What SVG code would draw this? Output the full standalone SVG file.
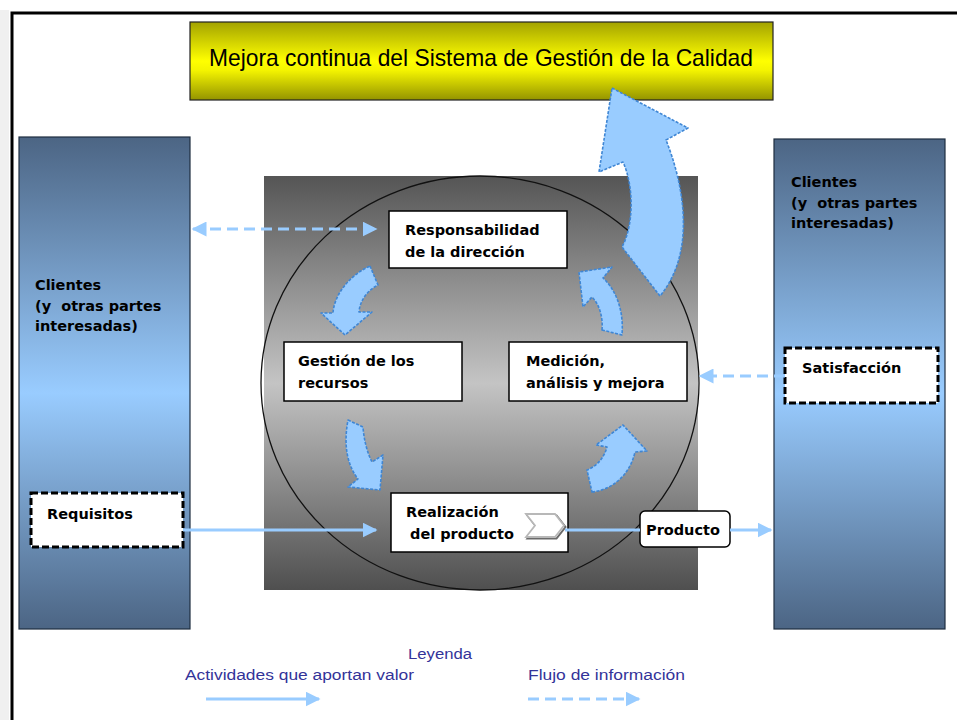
<svg xmlns="http://www.w3.org/2000/svg" width="957" height="720" viewBox="0 0 957 720">
<defs>
<linearGradient id="gYellow" x1="0" y1="0" x2="0" y2="1">
<stop offset="0" stop-color="#a3a300"/><stop offset="0.5" stop-color="#ffff00"/><stop offset="0.62" stop-color="#f4f400"/><stop offset="1" stop-color="#949400"/>
</linearGradient>
<linearGradient id="gCol" x1="0" y1="0" x2="0" y2="1">
<stop offset="0" stop-color="#4c6584"/><stop offset="0.52" stop-color="#99ccff"/><stop offset="1" stop-color="#4c6584"/>
</linearGradient>
<linearGradient id="gGray" x1="0" y1="0" x2="0" y2="1">
<stop offset="0" stop-color="#555555"/><stop offset="0.5" stop-color="#c4c4c4"/><stop offset="1" stop-color="#4f4f4f"/>
</linearGradient>
<marker id="ah" viewBox="0 0 10 10" refX="9" refY="5" markerWidth="5" markerHeight="5" markerUnits="strokeWidth" orient="auto-start-reverse">
<path d="M0,0 L10,5 L0,10 Z" fill="#99ccff"/>
</marker>
</defs>
<style>
.box{fill:#ffffff;stroke:#000000;stroke-width:1.5}
.dbox{fill:#ffffff;stroke:#000000;stroke-width:3;stroke-dasharray:7 3}
.lbl{font-family:"DejaVu Sans",Verdana,sans-serif;font-weight:bold;font-size:14.5px;fill:#000000}
.blk{fill:#99ccff;stroke:#3f86d4;stroke-width:1.6;stroke-dasharray:3 1.5;stroke-linejoin:round}
.flow{fill:none;stroke:#99ccff;stroke-width:3}
.info{fill:none;stroke:#99ccff;stroke-width:3;stroke-dasharray:11 6}
.leg{font-family:"Liberation Sans",Arial,sans-serif;font-size:14px;fill:#333399}
</style>
<rect x="0" y="0" width="957" height="720" fill="#ffffff"/>
<rect x="0" y="10" width="9" height="710" fill="#f0f0f0"/>
<path d="M12,720 L12,13 L957,13" fill="none" stroke="#000000" stroke-width="3"/>

<g id="titulo">
<rect x="190" y="22" width="583" height="78" fill="url(#gYellow)" stroke="#222222" stroke-width="1.2"/>
<text x="481" y="66" text-anchor="middle" textLength="544" lengthAdjust="spacingAndGlyphs" font-family="Liberation Sans, Arial, sans-serif" font-size="24" fill="#000000">Mejora continua del Sistema de Gestión de la Calidad</text>
</g>

<g id="clientes-izq">
<rect x="19" y="137" width="171" height="492" fill="url(#gCol)" stroke="#1e2e40" stroke-width="1.2"/>
<text class="lbl" x="35" y="290">Clientes</text>
<text class="lbl" x="35" y="311">(y&#160; otras partes</text>
<text class="lbl" x="35" y="331">interesadas)</text>
</g>

<g id="clientes-der">
<rect x="774" y="139" width="171" height="490" fill="url(#gCol)" stroke="#1e2e40" stroke-width="1.2"/>
<text class="lbl" x="791" y="187">Clientes</text>
<text class="lbl" x="791" y="208">(y&#160; otras partes</text>
<text class="lbl" x="791" y="228">interesadas)</text>
</g>

<g id="sistema">
<rect x="264" y="176" width="434" height="414" fill="url(#gGray)"/>
<ellipse cx="480" cy="383" rx="219" ry="207" fill="none" stroke="#111111" stroke-width="1.3"/>
</g>

<g id="requisitos">
<rect class="dbox" x="31" y="493" width="152" height="54"/>
<text class="lbl" x="47" y="519">Requisitos</text>
</g>

<g id="satisfaccion">
<rect class="dbox" x="785" y="348" width="153" height="55"/>
<text class="lbl" x="802" y="373">Satisfacción</text>
</g>

<g id="responsabilidad">
<rect class="box" x="389" y="211" width="178" height="57"/>
<text class="lbl" x="405" y="235">Responsabilidad</text>
<text class="lbl" x="405" y="257">de la dirección</text>
</g>

<g id="gestion">
<rect class="box" x="284" y="342" width="178" height="59"/>
<text class="lbl" x="298" y="366">Gestión de los</text>
<text class="lbl" x="298" y="388">recursos</text>
</g>

<g id="medicion">
<rect class="box" x="509" y="342" width="178" height="59"/>
<text class="lbl" x="526" y="366">Medición,</text>
<text class="lbl" x="526" y="388">análisis y mejora</text>
</g>

<g id="realizacion">
<rect class="box" x="391" y="493" width="177" height="59"/>
<text class="lbl" x="406" y="517">Realización</text>
<text class="lbl" x="410" y="539">del producto</text>
<path d="M527.5,515.5 L556.5,515.5 L565.5,527 L556.5,538.5 L527.5,538.5 L536.5,527 Z" fill="none" stroke="#6a6a6a" stroke-width="2"/>
<path d="M526,514 L555,514 L564,525.5 L555,537 L526,537 L535,525.5 Z" fill="#ffffff" stroke="#b8b8b8" stroke-width="1.8"/>
</g>

<g id="producto">
<rect class="box" x="640" y="511" width="90" height="36" rx="5" ry="5"/>
<text class="lbl" x="646" y="535">Producto</text>
</g>

<g id="ciclo">
<path class="blk" d="M370,266 L378,285 C368,290 360,300 359,312 L372,312 L345,335 L321,313 L333,313 C334,296 348,276 370,266 Z"/>
<path class="blk" d="M348,420 L363,427 C364,440 367,452 372,462 L383,455 L380,490 L348,487 L358,479 C348,466 343,447 348,420 Z"/>
<path class="blk" d="M592,492 C612,490 630,475 635,452 L647,451 L623,425 L596,445 L607,447 C604,458 597,466 587,470 Z"/>
<path class="blk" d="M602,330 C603,318 600,305 592,297 L583,307 L579,272 L612,267 L603,278 C616,290 624,310 622,335 Z"/>
</g>

<g id="mejora-continua">
<path class="blk" d="M612,88 L688,128 L666,140 C682,180 698,250 660,296 L622,247 C634,225 634,186 623,162 L599,172 Z"/>
</g>

<g id="conectores">
<line class="info" x1="193" y1="229" x2="376" y2="229" marker-start="url(#ah)" marker-end="url(#ah)"/>
<line class="info" x1="785" y1="376" x2="700" y2="376" marker-end="url(#ah)"/>
<line class="flow" x1="183" y1="530" x2="376" y2="530" marker-end="url(#ah)"/>
<line class="flow" x1="565" y1="530" x2="640" y2="530"/>
<line class="flow" x1="730" y1="530" x2="771" y2="530" marker-end="url(#ah)"/>
</g>

<g id="leyenda">
<text class="leg" x="408" y="659" textLength="64" lengthAdjust="spacingAndGlyphs">Leyenda</text>
<text class="leg" x="185" y="680" textLength="229" lengthAdjust="spacingAndGlyphs">Actividades que aportan valor</text>
<text class="leg" x="528" y="680" textLength="157" lengthAdjust="spacingAndGlyphs">Flujo de información</text>
<line class="flow" x1="206" y1="699" x2="319" y2="699" marker-end="url(#ah)"/>
<line class="info" x1="528" y1="699" x2="639" y2="699" stroke-dasharray="8 5" marker-end="url(#ah)"/>
</g>
</svg>
